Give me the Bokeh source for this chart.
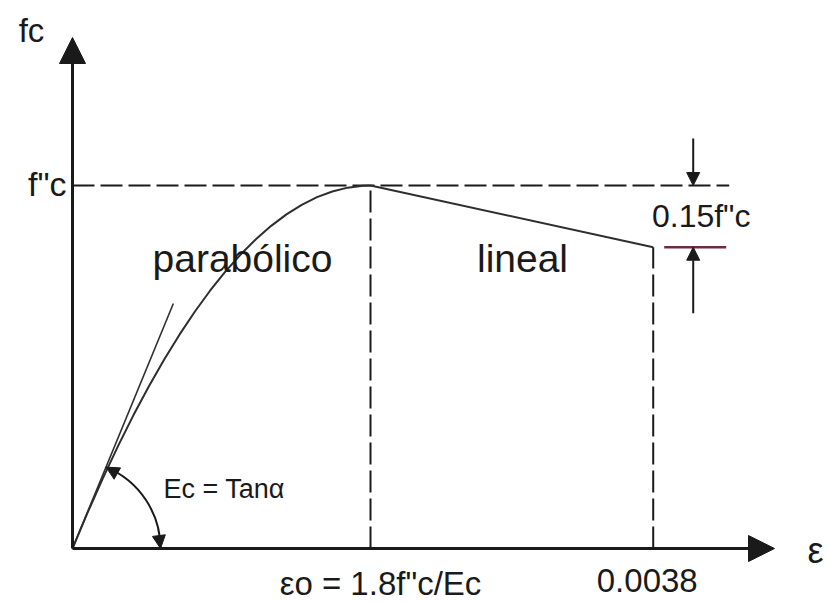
import numpy as np
from bokeh.plotting import figure
from bokeh.models import Range1d, Arrow, NormalHead, Label
from bokeh.embed import file_html
from bokeh.resources import INLINE

# ---------------- data ----------------
fc = 1.0            # f"c (normalised)
eps0 = 0.00195      # strain at peak  (1.8 f"c / Ec)
eps_u = 0.0038      # ultimate strain
f_u = 0.83          # stress at ultimate strain (f"c - 0.15 f"c)

para_eps = [0.0, 0.0001, 0.0002, 0.0003, 0.0004, 0.0005, 0.0006, 0.0007,
            0.0008, 0.0009, 0.0010, 0.0011, 0.0012, 0.0013, 0.0014, 0.0015,
            0.0016, 0.0017, 0.0018, 0.0019, 0.00195]
para_f = [0.0, 0.0999, 0.1946, 0.2840, 0.3682, 0.4471, 0.5207, 0.5891,
          0.6522, 0.7101, 0.7627, 0.8100, 0.8521, 0.8889, 0.9204, 0.9467,
          0.9678, 0.9836, 0.9941, 0.9993, 1.0]
lin_eps = [eps0, eps_u]
lin_f = [fc, f_u]
tan_eps = [0.0, 0.00066]
tan_f = [0.0, 0.675]

# ---------------- layout ----------------
W, H = 828, 603
SX = 298 / eps0          # px per strain unit
SY = 363.0               # px per stress unit
OX, OY = 72, 55          # origin position in px (from left / from bottom)

x0 = -OX / SX
y0 = -OY / SY
p = figure(width=W, height=H,
           x_range=Range1d(x0, x0 + W / SX),
           y_range=Range1d(y0, y0 + H / SY),
           output_backend="svg", toolbar_location=None,
           min_border=0, x_axis_location=None, y_axis_location=None,
           outline_line_color=None, background_fill_color="white")
p.grid.visible = False

def dx(px):
    return px / SX

def dy(px):
    return px / SY

INK = "#1a1a1a"
FONT = "Liberation Sans"

# axes with arrows
p.add_layout(Arrow(x_start=0, y_start=0, x_end=0, y_end=dy(511),
                   line_width=3, line_color=INK,
                   end=NormalHead(size=26, fill_color=INK, line_color=INK)))
p.add_layout(Arrow(x_start=0, y_start=0, x_end=dx(702), y_end=0,
                   line_width=3, line_color=INK,
                   end=NormalHead(size=26, fill_color=INK, line_color=INK)))

# dashed reference lines
p.line([0, eps_u + dx(76)], [fc, fc], line_dash="22 6", line_width=2, line_color=INK)
p.line([eps0, eps0], [0, fc], line_dash="22 6", line_width=2, line_color=INK)
p.line([eps_u, eps_u], [0, f_u], line_dash="22 6", line_width=2, line_color=INK)

# curve
p.line(para_eps, para_f, line_width=2, line_color="#2e2e2e", line_join="round")
p.line(lin_eps, lin_f, line_width=2, line_color="#2e2e2e")
p.line(tan_eps, tan_f, line_width=1.6, line_color="#2e2e2e")

# angle arc
R = 88
ang = float(np.arctan2(tan_f[1] * SY, tan_eps[1] * SX))
p.arc(x=0, y=0, radius=R, radius_units="screen", start_angle=0,
      end_angle=ang, line_width=2, line_color=INK)
for a_s, a_e in [(0.25, 0.0), (ang - 0.25, ang)]:
    p.add_layout(Arrow(x_start=dx(R * np.cos(a_s)), y_start=dy(R * np.sin(a_s)),
                       x_end=dx(R * np.cos(a_e)), y_end=dy(R * np.sin(a_e)),
                       line_alpha=0,
                       end=NormalHead(size=13, fill_color=INK, line_color=INK)))

# dimension 0.15 f"c
xd = eps_u + dx(40)
p.add_layout(Arrow(x_start=xd, y_start=fc + dy(47), x_end=xd, y_end=fc,
                   line_width=2, line_color=INK,
                   end=NormalHead(size=13, fill_color=INK, line_color=INK)))
p.add_layout(Arrow(x_start=xd, y_start=f_u - dy(66), x_end=xd, y_end=f_u,
                   line_width=2, line_color=INK,
                   end=NormalHead(size=13, fill_color=INK, line_color=INK)))
p.line([eps_u + dx(11), eps_u + dx(73)], [f_u, f_u], line_width=2.5,
       line_color="#6a2c45")

def lab(x, y, t, size, align="center", color=INK):
    p.add_layout(Label(x=x, y=y, text=t, text_font=FONT,
                       text_font_size=f"{size}px", text_align=align,
                       text_baseline="middle", text_color=color))

lab(dx(-41), dy(518), "fc", 33)
lab(dx(-6), fc + dy(2), "f\"c", 34, align="right")
lab(dx(170), dy(290), "parabólico", 39)
lab(dx(450), dy(290), "lineal", 39)
lab(eps_u + dx(48), fc - dy(30), "0.15f\"c", 32)
lab(dx(91), dy(60), "Ec = Tanα", 27, align="left")
lab(eps0 + dx(10), dy(-35), "εo = 1.8f\"c/Ec", 33)
lab(eps_u - dx(6), dy(-32), "0.0038", 33)
lab(dx(743), dy(-2), "ε", 36)

open("out.html", "w").write(file_html(p, INLINE))
